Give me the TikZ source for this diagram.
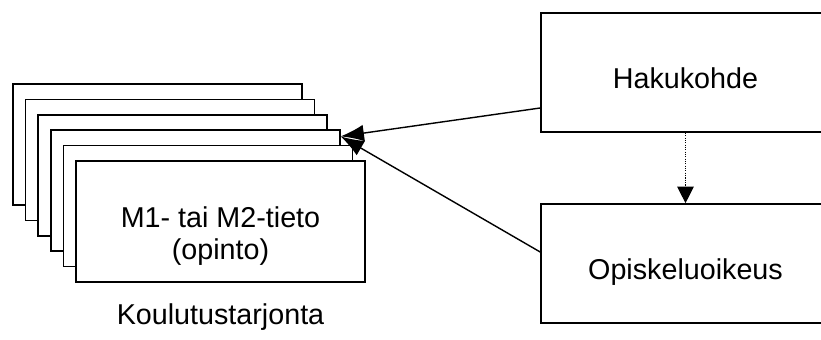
\documentclass[tikz,border=0pt]{standalone}
\usepackage{fontspec}
\setmainfont{Liberation Sans}
\usetikzlibrary{positioning,arrows.meta}

\tikzset{
  card/.style={draw, fill=white, line width=1.4pt, minimum width=8.67cm, minimum height=3.63cm, inner sep=0pt},
  rbox/.style={draw, line width=1.4pt, minimum width=8.67cm, minimum height=3.57cm, text height=0.96cm, text depth=0pt},
  txt/.style={font=\fontsize{24.5}{27.3}\selectfont}
}

\begin{document}
\begin{tikzpicture}
      \useasboundingbox (0,0) rectangle (24.63,10.2);
      \clip (0,0) rectangle (24.63,10.2);
      % pino
      \foreach \i in {0,...,5}
        \node[card] (card\i) at (4.725+0.378*\i, 5.865-0.462*\i) {};
      \node[txt, align=center] (opinto) at ([yshift=-0.44cm]card5.center) {M1- tai M2-tieto\\(opinto)};
      \node[txt, inner sep=0pt, below=0.63cm of card5] (tarjonta) {Koulutustarjonta};
      % oikea puoli
      \node[rbox, txt] (hakukohde) at (20.565,8.025) {Hakukohde};
      \node[rbox, txt] (oikeus) at (20.565,2.295) {Opiskeluoikeus};
      \coordinate (tip) at ([yshift=-0.21cm]card3.north east);
      \draw[line width=1.2pt, -{Latex[length=0.7cm, width=0.5cm]}] ([yshift=-1.065cm]hakukohde.west) -- (tip);
      \draw[line width=1.2pt, -{Latex[length=0.7cm, width=0.5cm]}] ([yshift=0.345cm]oikeus.west) -- (tip);
      \draw[densely dotted, line width=1pt, -{Triangle[length=0.5cm, width=0.5cm]}] (hakukohde.south) -- (oikeus.north);
\end{tikzpicture}
\end{document}
